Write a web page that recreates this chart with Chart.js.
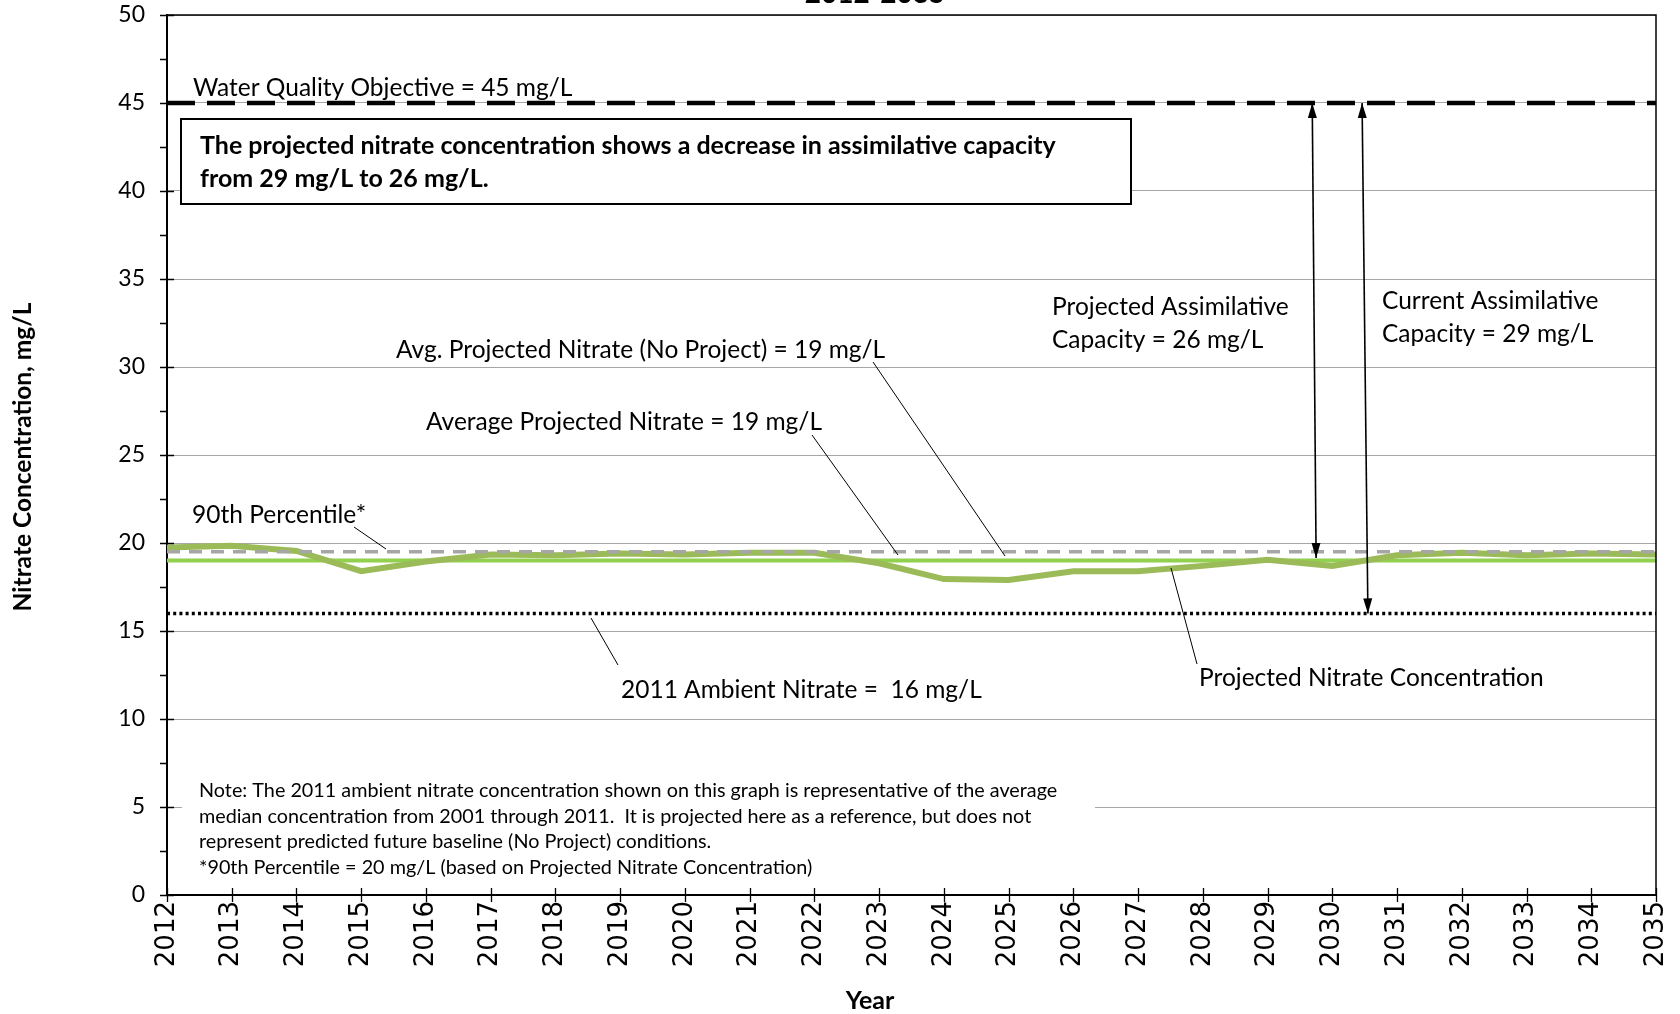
<!DOCTYPE html>
<html>
<head>
<meta charset="utf-8">
<script src="https://cdn.jsdelivr.net/npm/chart.js@4.4.0/dist/chart.umd.min.js"></script>
<style>
  html, body { margin: 0; padding: 0; background: #fff; }
  #wrap { width: 1680px; height: 1014px; }
</style>
</head>
<body>
<div id="wrap"><canvas id="nitrateChart" width="1680" height="1014"></canvas></div>
<script>
// values
const years = [2012, 2013, 2014, 2015, 2016, 2017, 2018, 2019, 2020, 2021, 2022, 2023,
               2024, 2025, 2026, 2027, 2028, 2029, 2030, 2031, 2032, 2033, 2034, 2035];
const projectedNitrate = [19.75, 19.85, 19.55, 18.4, 18.95, 19.35, 19.3, 19.4, 19.35, 19.45, 19.45, 18.85,
                          17.95, 17.9, 18.4, 18.4, 18.7, 19.05, 18.7, 19.3, 19.45, 19.3, 19.4, 19.35];
const avgProjectedNitrate = 19;
const percentile90 = 19.5;
const ambientNitrate2011 = 16;
const waterQualityObjective = 45;
const yTicks = [0, 5, 10, 15, 20, 25, 30, 35, 40, 45, 50];

const firstYear = years[0];
const lastYear = years[years.length - 1];

// horizontal reference line across the whole period
function flatLine(v) {
    return [{ x: firstYear, y: v }, { x: lastYear, y: v }];
}

const FONT = 'Lato';

function arrow(ctx, x1, y1, x2, y2) {
    ctx.beginPath();
    ctx.moveTo(x1, y1);
    ctx.lineTo(x2, y2);
    ctx.stroke();
    const heads = [[x1, y1, x2, y2], [x2, y2, x1, y1]];
    heads.forEach(([tx, ty, fx, fy]) => {
        const ang = Math.atan2(ty - fy, tx - fx);
        const len = 15, half = 4.5;
        ctx.beginPath();
        ctx.moveTo(tx, ty);
        ctx.lineTo(tx - len * Math.cos(ang) + half * Math.sin(ang), ty - len * Math.sin(ang) - half * Math.cos(ang));
        ctx.lineTo(tx - len * Math.cos(ang) - half * Math.sin(ang), ty - len * Math.sin(ang) + half * Math.cos(ang));
        ctx.closePath();
        ctx.fill();
    });
}

function leader(ctx, x1, y1, x2, y2) {
    ctx.beginPath();
    ctx.moveTo(x1, y1);
    ctx.lineTo(x2, y2);
    ctx.stroke();
}

const overlay = {
    id: 'overlay',
    beforeDraw(chart) {
        const c = chart.ctx;
        c.save();
        c.fillStyle = '#fff';
        c.fillRect(0, 0, chart.width, chart.height);
        c.restore();
    },
    afterDatasetsDraw(chart) {
        const { ctx, chartArea: a, scales: { x, y } } = chart;
        ctx.save();

        // frame on top and right
        ctx.strokeStyle = '#000';
        ctx.lineWidth = 1.5;
        ctx.beginPath();
        ctx.moveTo(a.left, a.top);
        ctx.lineTo(a.right, a.top);
        ctx.lineTo(a.right, a.bottom);
        ctx.stroke();

        // tick marks
        ctx.lineWidth = 1.3;
        ctx.beginPath();
        for (let v = 0; v <= 50; v += 2.5) {
            const py = Math.round(y.getPixelForValue(v)) + 0.5;
            const major = v % 5 === 0;
            ctx.moveTo(a.left - 7, py);
            ctx.lineTo(major ? a.left + 7 : a.left, py);
        }
        years.forEach(yr => {
            const px = Math.round(x.getPixelForValue(yr)) + 0.5;
            ctx.moveTo(px, a.bottom - 7);
            ctx.lineTo(px, a.bottom + 7);
        });
        ctx.stroke();

        ctx.fillStyle = '#000';
        ctx.textBaseline = 'middle';
        ctx.textAlign = 'left';

        // statement box
        ctx.fillStyle = '#fff';
        ctx.fillRect(181, 119, 950, 85);
        ctx.strokeStyle = '#000';
        ctx.lineWidth = 2;
        ctx.strokeRect(181, 119, 950, 85);
        ctx.fillStyle = '#000';
        ctx.font = 'bold 25px ' + FONT;
        ctx.fillText('The projected nitrate concentration shows a decrease in assimilative capacity', 200, 146);
        ctx.fillText('from 29 mg/L to 26 mg/L.', 200, 179);

        // note box
        ctx.fillStyle = '#fff';
        ctx.fillRect(182, 771, 913, 113);
        ctx.fillStyle = '#000';
        ctx.font = '19.8px ' + FONT;
        ctx.fillText('Note: The 2011 ambient nitrate concentration shown on this graph is representative of the average', 199, 791);
        ctx.fillText('median concentration from 2001 through 2011.  It is projected here as a reference, but does not', 199, 817);
        ctx.fillText('represent predicted future baseline (No Project) conditions.', 199, 842);
        ctx.fillText('*90th Percentile = 20 mg/L (based on Projected Nitrate Concentration)', 199, 868);

        // labels
        ctx.font = '24.5px ' + FONT;
        ctx.fillText('Water Quality Objective = 45 mg/L', 193, 88);
        ctx.fillText('Projected Assimilative', 1052, 307);
        ctx.fillText('Capacity = 26 mg/L', 1052, 340);
        ctx.fillText('Current Assimilative', 1382, 301);
        ctx.fillText('Capacity = 29 mg/L', 1382, 334);
        ctx.fillText('Avg. Projected Nitrate (No Project) = 19 mg/L', 396, 350);
        ctx.fillText('Average Projected Nitrate = 19 mg/L', 426, 422);
        ctx.fillText('90th Percentile*', 192, 515);
        ctx.fillText('2011 Ambient Nitrate =  16 mg/L', 621, 690);
        ctx.fillText('Projected Nitrate Concentration', 1199, 678);

        // leader lines
        ctx.strokeStyle = '#000';
        ctx.lineWidth = 1;
        leader(ctx, 873, 362, 1005, 556);
        leader(ctx, 812, 435, 898, 555);
        leader(ctx, 354, 527, 386, 549);
        leader(ctx, 591, 618, 618, 665);
        leader(ctx, 1171, 568, 1197, 664);

        // assimilative capacity arrows
        ctx.lineWidth = 1.6;
        arrow(ctx, x.getPixelForValue(2029.69), y.getPixelForValue(waterQualityObjective),
                   x.getPixelForValue(2029.75), y.getPixelForValue(19.15));
        arrow(ctx, x.getPixelForValue(2030.46), y.getPixelForValue(waterQualityObjective),
                   x.getPixelForValue(2030.55), y.getPixelForValue(ambientNitrate2011));

        // title, cut off at the top edge
        ctx.textAlign = 'center';
        ctx.textBaseline = 'alphabetic';
        ctx.font = 'bold 28px ' + FONT;
        ctx.fillText('2012-2035', 875, 3);

        // axis titles
        ctx.textBaseline = 'middle';
        ctx.font = 'bold 25px ' + FONT;
        ctx.fillText('Year', 870, 1001);
        ctx.save();
        ctx.translate(23, 457);
        ctx.rotate(-Math.PI / 2);
        ctx.font = 'bold 24.5px ' + FONT;
        ctx.fillText('Nitrate Concentration, mg/L', 0, 0);
        ctx.restore();

        ctx.restore();
    }
};

const ctx = document.getElementById('nitrateChart');

const config = {
    type: 'line',
    data: {
        datasets: [
            {
                label: 'Water Quality Objective',
                data: flatLine(waterQualityObjective),
                borderColor: '#000',
                borderWidth: 4.5,
                borderDash: [28, 12],
                order: 1
            },
            {
                label: '2011 Ambient Nitrate',
                data: flatLine(ambientNitrate2011),
                borderColor: '#000',
                borderWidth: 3.5,
                borderDash: [3, 3.2],
                order: 2
            },
            {
                label: '90th Percentile',
                data: flatLine(percentile90),
                borderColor: '#a6a6a6',
                borderWidth: 3.5,
                borderDash: [13, 9],
                order: 3
            },
            {
                label: 'Projected Nitrate Concentration',
                data: years.map((yr, i) => ({ x: yr, y: projectedNitrate[i] })),
                borderColor: '#9bbb59',
                borderWidth: 6,
                order: 4
            },
            {
                label: 'Average Projected Nitrate',
                data: flatLine(avgProjectedNitrate),
                borderColor: '#92d050',
                borderWidth: 4,
                order: 5
            }
        ]
    },
    options: {
        responsive: false,
        animation: false,
        layout: { padding: { top: 15, right: 24, left: 0, bottom: 0 } },
        elements: {
            point: { radius: 0 },
            line: { tension: 0, fill: false }
        },
        plugins: {
            legend: { display: false },
            tooltip: { enabled: false },
            title: { display: false }
        },
        scales: {
            x: {
                type: 'linear',
                min: firstYear,
                max: lastYear,
                afterFit(s) {
                    s.height = 119;
                    s.paddingLeft = 0;
                    s.paddingRight = 0;
                },
                afterBuildTicks(s) { s.ticks = years.map(v => ({ value: v })); },
                grid: { display: false, drawTicks: false },
                border: { color: '#000', width: 2 },
                ticks: {
                    autoSkip: false,
                    maxRotation: 90,
                    minRotation: 90,
                    padding: 6,
                    color: '#000',
                    font: { family: 'DejaVu Sans', size: 26 },
                    callback: v => String(v)
                }
            },
            y: {
                min: 0,
                max: 50,
                afterFit(s) {
                    s.width = 167;
                    s.paddingTop = 0;
                    s.paddingBottom = 0;
                },
                afterBuildTicks(s) { s.ticks = yTicks.map(v => ({ value: v })); },
                grid: { color: '#a6a6a6', lineWidth: 1, drawTicks: false },
                border: { color: '#000', width: 2 },
                ticks: {
                    padding: 22,
                    color: '#000',
                    font: { family: FONT, size: 23 }
                }
            }
        }
    },
    plugins: [overlay]
};

const nitrateChart = new Chart(ctx, config);
</script>
</body>
</html>
